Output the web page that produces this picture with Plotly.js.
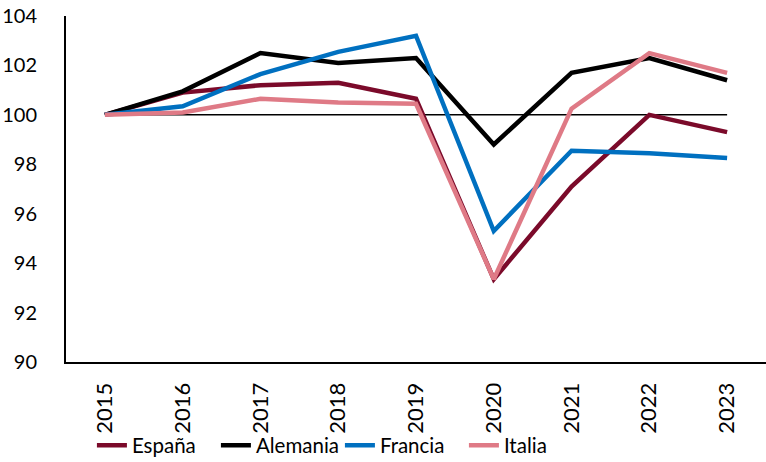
<!DOCTYPE html>
<html>
<head>
<meta charset="utf-8">
<script src="https://cdn.plot.ly/plotly-3.0.1.min.js"></script>
<style>html,body{margin:0;padding:0;background:#fff;}#chart{width:766px;height:462px;}</style>
</head>
<body>
<div id="chart"></div>
<script>
const years = ['2015','2016','2017','2018','2019','2020','2021','2022','2023'];
const espana   = [100, 100.9, 101.2, 101.3, 100.65, 93.35, 97.1, 100.0, 99.3];
const alemania = [100, 100.95, 102.5, 102.1, 102.3, 98.8, 101.7, 102.3, 101.4];
const francia  = [100, 100.35, 101.65, 102.55, 103.2, 95.3, 98.55, 98.45, 98.25];
const italia   = [100, 100.1, 100.65, 100.5, 100.45, 93.35, 100.25, 102.5, 101.7];
const seriesNames = ['España', 'Alemania', 'Francia', 'Italia'];
const baseline = 100;

const colors = ['#7B0A2A', '#000000', '#0070C0', '#DF7A86'];
const data = [espana, alemania, francia, italia].map((vals, i) => ({
  type: 'scatter', mode: 'lines', x: years, y: vals, name: seriesNames[i],
  line: {color: colors[i], width: 4.5}
}));

const font = {family: 'Lato, "Open Sans", sans-serif', color: '#000', size: 22};

const layout = {
  width: 766, height: 462,
  margin: {l: 66, r: 0, t: 16, b: 100},
  paper_bgcolor: '#fff', plot_bgcolor: '#fff',
  font: font,
  showlegend: true,
  legend: {orientation: 'h', xref: 'container', yref: 'container', x: 0.12, xanchor: 'left', y: 0.036, yanchor: 'middle',
           entrywidth: 79, entrywidthmode: 'pixels',
           font: {family: 'Lato, sans-serif', size: 20.5, color: '#000'}, bgcolor: 'rgba(0,0,0,0)'},
  xaxis: {type: 'category', range: [-0.5, years.length - 0.5], showline: true, linecolor: '#000', linewidth: 2,
          showgrid: false, zeroline: false, ticks: '', tickangle: -90,
          ticklabelstandoff: 10, tickfont: {size: 22}},
  yaxis: {range: [90, 104], dtick: 2, tick0: 90, showline: true, linecolor: '#000', linewidth: 2,
          showgrid: false, zeroline: false, ticks: '', ticklabelstandoff: 23,
          tickfont: {size: 20}},
  shapes: [{type: 'line', xref: 'x', yref: 'y', x0: 0, x1: years.length - 1,
            y0: baseline, y1: baseline, line: {color: '#000', width: 1.5}, layer: 'below'}]
};

Plotly.newPlot('chart', data, layout, {displayModeBar: false, staticPlot: true});
</script>
</body>
</html>
